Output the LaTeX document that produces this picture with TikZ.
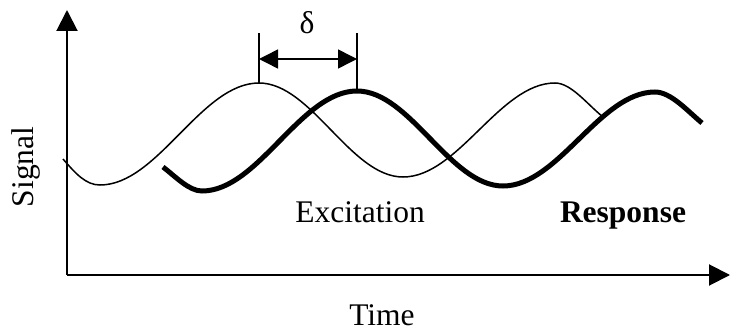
\documentclass[tikz,border=0pt]{standalone}
\usepackage{fontspec}
\setmainfont{Liberation Serif}
\usetikzlibrary{arrows.meta}
\tikzset{
  lbl/.style={font=\fontsize{31.5}{36}\selectfont, inner sep=0pt, anchor=base},
  axisline/.style={line width=2pt, -{Triangle[length=21pt,width=21pt]}},
  thinwave/.style={line width=1.5pt},
  thickwave/.style={line width=5pt},
  dimline/.style={line width=1.5pt},
  dimarrow/.style={line width=1.5pt, {Triangle[length=19pt,width=19pt]}-{Triangle[length=19pt,width=19pt]}}
}
\begin{document}
\begin{tikzpicture}[x=1pt,y=-1pt]
\useasboundingbox (0,0) rectangle (730,331);
% axes
\coordinate (origin) at (67,275);
\coordinate (ytip) at (67,10);
\coordinate (xtip) at (730,275);
\draw[axisline] (origin) -- (ytip);
\draw[axisline] (origin) -- (xtip);
% excitation (thin)
\draw[thinwave] (63,159) .. controls (76,174) and (86,185) .. (100,185)
  .. controls (157.9,185) and (201.1,83) .. (259,83)
  .. controls (311.4,83) and (350.6,177) .. (403,177)
  .. controls (458.3,177) and (499.7,83) .. (555,83)
  .. controls (571,83) and (587,104) .. (603,117);
% response (thick)
\draw[thickwave] (163,167) .. controls (176,177) and (189,191) .. (202,191)
  .. controls (258.4,191) and (300.6,91) .. (357,91)
  .. controls (410.1,91) and (449.9,186) .. (503,186)
  .. controls (558.3,186) and (599.7,92) .. (655,92)
  .. controls (671,92) and (688,111.5) .. (702,123);
% delta dimension
\coordinate (d1top) at (259,33);
\coordinate (d1bot) at (259,83);
\coordinate (d2top) at (357,33);
\coordinate (d2bot) at (357,90);
\coordinate (a1) at (259,59);
\coordinate (a2) at (357,59);
\draw[dimline] (d1bot) -- (d1top);
\draw[dimline] (d2bot) -- (d2top);
\draw[dimarrow] (a1) -- (a2);
\node[lbl] (delta) at (307,34) {δ};
% labels
\node[lbl] (excitation) at (360,222) {Excitation};
\node[lbl, font=\fontsize{31.5}{36}\selectfont\bfseries] (response) at (623,222) {Response};
\node[lbl] (time) at (382,325) {Time};
\node[lbl, rotate=90] (signal) at (33,167) {Signal};
\end{tikzpicture}
\end{document}
